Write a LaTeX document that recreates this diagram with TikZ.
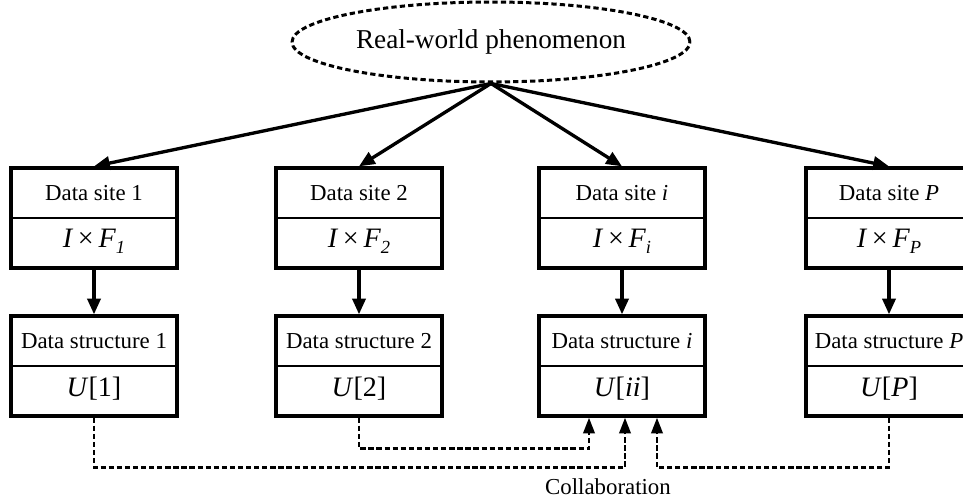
\documentclass[tikz,border=0pt]{standalone}
\usepackage{fontspec}
\setmainfont{Liberation Serif}
\usetikzlibrary{shapes.geometric, arrows.meta, positioning}

\tikzset{
  box/.style={draw, line width=1.9pt, minimum width=3.32cm, minimum height=2cm, inner sep=0pt},
  lbl/.style={font=\fontsize{13}{15}\selectfont, inner sep=1pt},
  mth/.style={font=\fontsize{16}{18}\selectfont, inner sep=1pt},
  flow/.style={-{Triangle[length=9pt,width=7.5pt]}, line width=1.9pt},
  collab/.style={-{Triangle[length=9pt,width=6.5pt]}, line width=1.5pt, dash pattern=on 3pt off 1.6pt},
}
\newcommand{\sbs}[1]{\raisebox{-0.45ex}{\fontsize{10.5}{10.5}\selectfont\textit{#1}}}

\begin{document}
\begin{tikzpicture}[x=0.02cm, y=-0.02cm]
    \useasboundingbox (0,0) rectangle (963,500);

    % Source
    \node[ellipse, draw, line width=1.7pt, dash pattern=on 3pt off 1.8pt, inner sep=0pt,
          minimum width=7.96cm, minimum height=1.6cm, font=\fontsize{15.5}{18}\selectfont] (phen) at (491,42) {Real-world phenomenon};

    % Sites and data structures
    \foreach \k/\x/\lab/\sub/\idx in {1/94/1/1/1, 2/359/2/2/2, i/622/\textit{i}/i/\textit{ii}, P/889/\textit{P}/P/\textit{P}} {
        \node[box] (site\k) at (\x,218) {};
        \draw[line width=0.6pt] (site\k.west) -- (site\k.east);
        \node[lbl] (sitet\k) at (\x,193) {Data site \lab};
        \node[mth] (siteb\k) at (\x,241) {\textit{I}\,×\,\textit{F}\sbs{\sub}};

        \node[box] (struct\k) at (\x,366) {};
        \draw[line width=0.6pt] (struct\k.west) -- (struct\k.east);
        \node[lbl] (structt\k) at (\x,341) {Data structure \lab};
        \node[mth] (structb\k) at (\x,389) {\textit{U}[\idx]};

        \draw[flow] (phen.south) -- (site\k.north);
        \draw[flow] (site\k.south) -- (struct\k.north);
    }

    % Collaboration links
    \draw[collab] (struct1.south) -- ++(0,50) -| ([xshift=0.06cm]structi.south);
    \draw[collab] (struct2.south) -- ++(0,31) -| ([xshift=-0.66cm]structi.south);
    \draw[collab] (structP.south) -- ++(0,50) -| ([xshift=0.7cm]structi.south);
    \node[lbl] (collabtxt) at (608,487) {Collaboration};
\end{tikzpicture}
\end{document}
